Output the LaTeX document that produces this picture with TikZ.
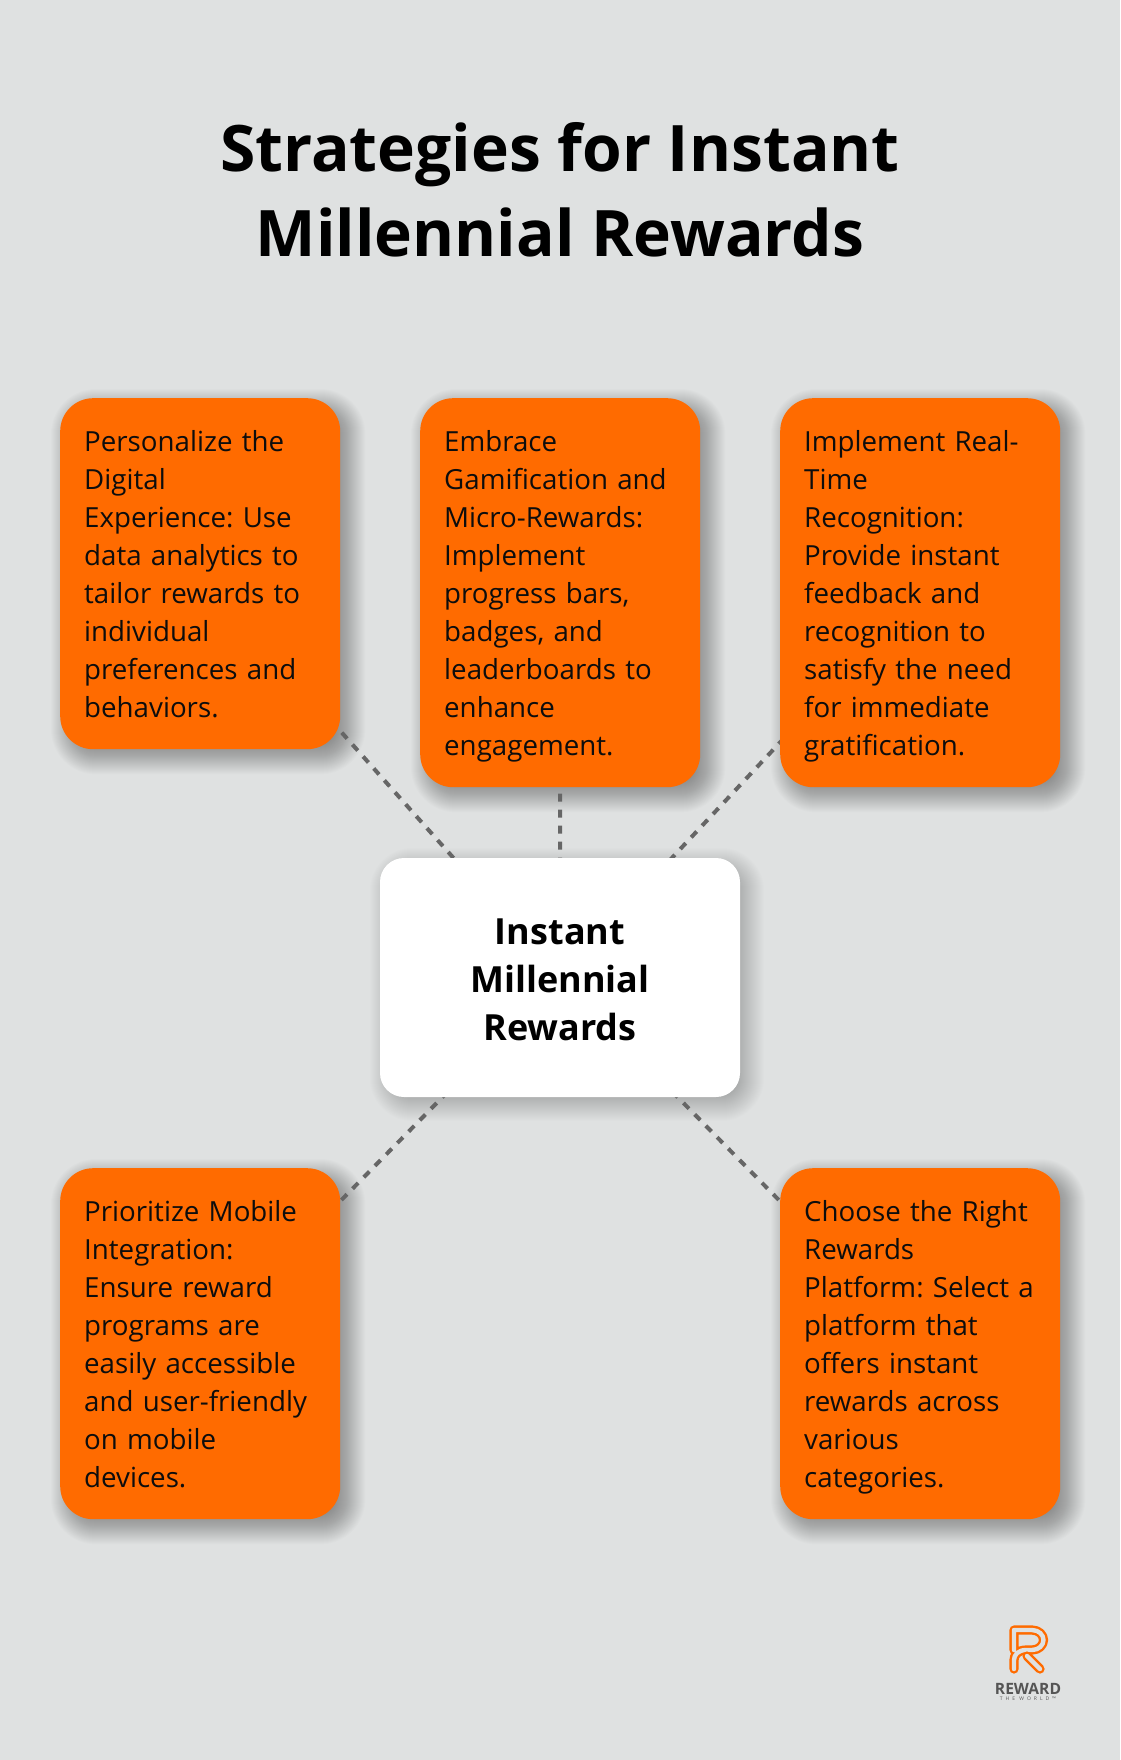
\documentclass[tikz,border=0pt]{standalone}
\usepackage{fontspec}
\setmainfont{Open Sans}
\usetikzlibrary{backgrounds}
\definecolor{pagegray}{HTML}{DFE1E1}
\definecolor{rewardorange}{HTML}{FF6B00}
\definecolor{linkgray}{HTML}{666666}
\definecolor{logogray}{HTML}{555555}
\tikzset{
  cardbox/.style={rectangle,rounded corners=33pt,fill=rewardorange,text=black!95,anchor=north west,
    text width=232pt,inner xsep=24pt,inner ysep=0pt,minimum width=280pt,align=left,
    font=\fontsize{27.7pt}{38pt}\selectfont\frenchspacing,
    execute at begin node={\rule{0pt}{33.6pt}},execute at end node={\rule[-11.4pt]{0pt}{11.4pt}}},
  hubbox/.style={rectangle,rounded corners=24pt,fill=white,minimum width=360pt,minimum height=239pt,
    align=center,font=\fontsize{36pt}{48pt}\selectfont\bfseries},
  linkline/.style={draw=linkgray,line width=4pt,dash pattern=on 8pt off 8pt},
  logoband/.style={draw=rewardorange,line width=2.4pt,double=pagegray,double distance=4.4pt,line cap=round,line join=round},
}
\begin{document}
\begin{tikzpicture}[x=1pt,y=1pt]
\useasboundingbox (0,0) rectangle (1120,-1760);
\begin{pgfonlayer}{background}
\fill[pagegray] (0,0) rectangle (1120,-1760);
\end{pgfonlayer}

\node [align=center,font=\fontsize{64.1pt}{85pt}\selectfont\bfseries] (title) at (560,-189.5) {Strategies for Instant\\Millennial Rewards};

\node [cardbox,minimum height=351pt] (personal) at (60,-398) {Personalize the\\Digital\\Experience: Use\\data analytics to\\tailor rewards to\\individual\\preferences and\\behaviors.};
\node [cardbox,minimum height=389pt] (gamify) at (420,-398) {Embrace\\Gamification and\\Micro-Rewards:\\Implement\\progress bars,\\badges, and\\leaderboards to\\enhance\\engagement.};
\node [cardbox,minimum height=389pt] (realtime) at (780,-398) {Implement Real-\\Time\\Recognition:\\Provide instant\\feedback and\\recognition to\\satisfy the need\\for immediate\\gratification.};
\node [cardbox,minimum height=351pt] (mobile) at (60,-1168) {Prioritize Mobile\\Integration:\\Ensure reward\\programs are\\easily accessible\\and user-friendly\\on mobile\\devices.};
\node [cardbox,minimum height=351pt] (platform) at (780,-1168) {Choose the Right\\Rewards\\Platform: Select a\\platform that\\offers instant\\rewards across\\various\\categories.};
\node [hubbox] (hub) at (560,-977.5) {\rule{0pt}{31pt}Instant\\Millennial\\Rewards};

\begin{pgfonlayer}{background}
% soft shadows
\foreach \boxname in {personal,gamify,realtime,mobile,platform}
  \foreach \g in {17,16,...,-15}
    \fill[black,opacity=.0105,rounded corners=28pt+\g pt] ([xshift=8pt-\g pt,yshift=-8pt+\g pt]\boxname.north west) rectangle ([xshift=8pt+\g pt,yshift=-8pt-\g pt]\boxname.south east);
\foreach \g in {17,16,...,-15}
  \fill[black,opacity=.0065,rounded corners=26pt+\g pt] ([xshift=7pt-\g pt,yshift=-7pt+\g pt]hub.north west) rectangle ([xshift=7pt+\g pt,yshift=-7pt-\g pt]hub.south east);
\draw[linkline] (hub.center) -- (personal.center);
\draw[linkline] (hub.center) -- (gamify.center);
\draw[linkline] (hub.center) -- (realtime.center);
\draw[linkline] (hub.center) -- (mobile.center);
\draw[linkline] (hub.center) -- (platform.center);
\end{pgfonlayer}

% logo
\draw[logoband] (1014,-1650) -- (1014,-1630) -- (1032,-1630) .. controls (1039,-1630) and (1043.5,-1635) .. (1043.5,-1640) .. controls (1043.5,-1645) and (1039,-1650) .. (1032,-1650) -- (1026,-1650) .. controls (1018,-1650) and (1014,-1655) .. (1014,-1660) -- (1014,-1669);
\draw[logoband] (1027,-1656) -- (1040,-1669);
\node [font=\fontsize{15.6pt}{16pt}\selectfont\bfseries,text=logogray,inner sep=0pt] (logoname) at (1028,-1689) {REWARD};
\node [font=\fontsize{5pt}{5pt}\selectfont\addfontfeature{LetterSpace=60},text=logogray,inner sep=0pt] (logotag) at (1028,-1698.5) {THE WORLD™};
\end{tikzpicture}
\end{document}
